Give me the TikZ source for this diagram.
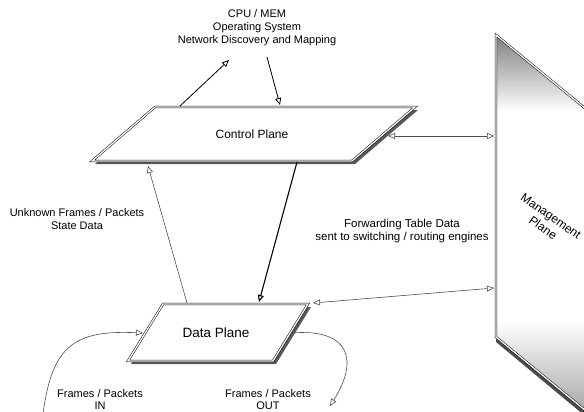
\documentclass[tikz,border=0pt]{standalone}
\usepackage{fontspec}
\setmainfont{Liberation Sans}
\usetikzlibrary{arrows.meta}
\begin{document}
\begin{tikzpicture}[x=1pt,y=-1pt,
  plane/.style={draw=black, line width=0.5pt, double=white, double distance=1.3pt},
  planeshadow/.style={fill=black!65},
  opentip/.style={-{Triangle[open,length=7pt,width=6pt,fill=white]}},
  bothtips/.style={{Triangle[open,length=7pt,width=6pt,fill=white]}-{Triangle[open,length=7pt,width=6pt,fill=white]}},
  small/.style={font=\fontsize{11}{13}\selectfont, align=center, inner sep=0pt},
  big/.style={font=\fontsize{12}{14}\selectfont, align=center, inner sep=0pt},
  strong/.style={line width=0.8pt, black},
  faint/.style={line width=0.6pt, black!70}
]
\useasboundingbox (0,0) rectangle (584,412);
\begin{scope}
\clip (0,0) rectangle (584,412);

% management plane, running off the right side (edges have slope 0.823)
\fill[black!70] (496,337) -- (620,439) -- (620,445) -- (496,342) -- cycle;
\fill[white] (496,35) -- (620,137) -- (620,439) -- (496,337) -- cycle;
% grey fading down from the top edge
\foreach \i in {0,...,37} {
  \pgfmathsetmacro{\g}{50*(1-\i/38)}
  \pgfmathsetmacro{\ya}{35+2*\i}
  \pgfmathsetmacro{\yb}{37.3+2*\i}
  \pgfmathsetmacro{\xa}{496+(\ya-35)/0.823}
  \pgfmathsetmacro{\xb}{496+(\yb-35)/0.823}
  \fill[black!\g] (496,\ya) -- (\xa,\ya) -- (\xb,\yb) -- (496,\yb) -- cycle;
}
% grey deepening towards the bottom edge
\foreach \i in {0,...,59} {
  \pgfmathsetmacro{\g}{45*\i/60}
  \pgfmathsetmacro{\ya}{320+2*\i}
  \pgfmathsetmacro{\yb}{322.3+2*\i}
  \pgfmathsetmacro{\xa}{max(496,496+(\ya-337)/0.823)}
  \pgfmathsetmacro{\xb}{max(496,496+(\yb-337)/0.823)}
  \fill[black!\g] (\xa,\ya) -- (620,\ya) -- (620,\yb) -- (\xb,\yb) -- cycle;
}
\draw[plane] (620,137) -- (496,35) -- (496,337) -- (620,439);
\node[big, rotate=-35] (mgmt) at (547,222) {Management\\Plane};
\coordinate (mgmtA) at (494,136);
\coordinate (mgmtB) at (494,288);

% control plane
\fill[planeshadow] (158,110) -- (418,110) -- (355,164) -- (95,164) -- cycle;
\fill[white] (155,107) -- (415,107) -- (352,161) -- (92,161) -- cycle;
\draw[plane] (155,107) -- (415,107) -- (352,161) -- (92,161) -- cycle;
\node[big] (cp) at (252,134) {Control Plane};

% data plane
\fill[planeshadow] (166,307) -- (311,307) -- (276,364) -- (131,364) -- cycle;
\fill[white] (163,304) -- (308,304) -- (273,361) -- (128,361) -- cycle;
\draw[plane] (163,304) -- (308,304) -- (273,361) -- (128,361) -- cycle;
\node[big, font=\fontsize{13.5}{15}\selectfont] (dp) at (216,333) {Data Plane};

% anchor points on the plane edges
\coordinate (cpUp) at (180,106);
\coordinate (cpDown) at (280,105);
\coordinate (cpBottom) at (297,162);
\coordinate (cpIn) at (148,166);
\coordinate (cpRight) at (388,136);
\coordinate (dpTop) at (259,302);
\coordinate (dpFrom) at (187,303);
\coordinate (dpCorner) at (313,303);
\coordinate (dpLeft) at (143,333);
\coordinate (dpRight) at (291,333);

% texts
\node[small] (sys) at (257,28) {CPU / MEM\\Operating System\\Network Discovery and Mapping};
\coordinate (sysUp) at (229,60);
\coordinate (sysDown) at (267,57);
\node[small] (unk) at (77,219) {Unknown Frames / Packets\\State Data};
\node[small, font=\fontsize{11.5}{13}\selectfont] (fwd) at (402,231) {Forwarding Table Data\\sent to switching / routing engines};
\node[small, font=\fontsize{11}{12}\selectfont] (fin) at (100,400) {Frames / Packets\\IN};
\node[small, font=\fontsize{11}{12}\selectfont] (fout) at (268,400) {Frames / Packets\\OUT};
\coordinate (inStart) at (43,414);
\coordinate (outEnd) at (330,406);

% connectors
\draw[strong, opentip] (cpUp) -- (sysUp);
\draw[strong, opentip] (sysDown) -- (cpDown);
\draw[line width=1.1pt, opentip] (cpBottom) -- (dpTop);
\draw[line width=0.5pt, black!80, opentip] (dpFrom) -- (cpIn);
\draw[faint, bothtips] (cpRight) -- (mgmtA);
\draw[faint, bothtips] (dpCorner) -- (mgmtB);
\draw[faint, opentip] (inStart) .. controls (52,345) and (75,330) .. (dpLeft);
\draw[faint, opentip] (dpRight) .. controls (352,328) and (358,362) .. (outEnd);
\end{scope}
\end{tikzpicture}
\end{document}
